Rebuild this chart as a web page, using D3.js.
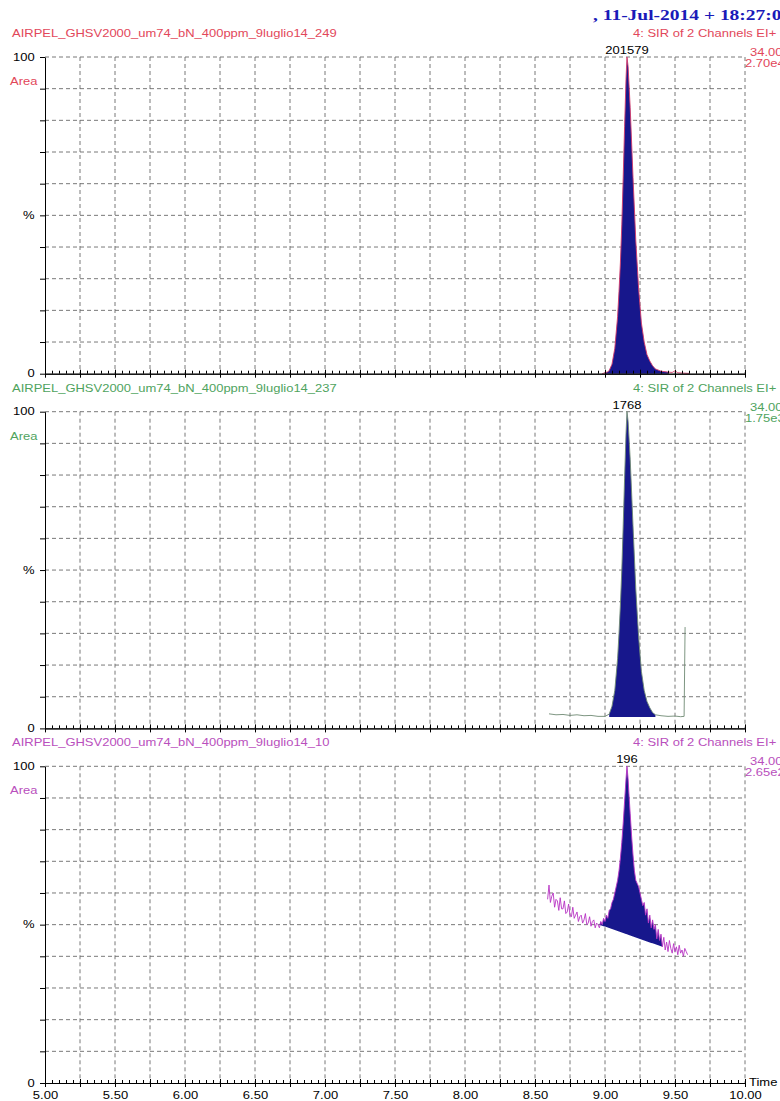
<!DOCTYPE html>
<html>
<head>
<meta charset="utf-8">
<script src="https://cdn.jsdelivr.net/npm/d3@7"></script>
<style>
    body { margin: 0; background: #fff; }
    svg { display: block; font-family: "Liberation Sans", Arial, sans-serif; }
</style>
</head>
<body>
<svg width="780" height="1101"></svg>
<script>
const svg_ = d3.select('svg');

// ---- data ----

const X_DOMAIN = [5, 10];
const X_LABEL_TICKS = [5.0, 5.5, 6.0, 6.5, 7.0, 7.5, 8.0, 8.5, 9.0, 9.5, 10.0];

const runNames = [
    "AIRPEL_GHSV2000_um74_bN_400ppm_9luglio14_249",
    "AIRPEL_GHSV2000_um74_bN_400ppm_9luglio14_237",
    "AIRPEL_GHSV2000_um74_bN_400ppm_9luglio14_10"
];
const runColors = ["#e2475a", "#4fa35e", "#b94fbd"];
const traceColors = ["#d23a6a", "#6f8a74", "#b833c4"];
const channelText = "4: SIR of 2 Channels EI+";
const channelMass = ["34.00", "34.00", "34.00"];
const channelMax = ["2.70e4", "1.75e3", "2.65e2"];
const peakTime = [9.157, 9.157, 9.157];
const peakArea = ["201579", "1768", "196"];
const dateText = ", 11-Jul-2014 + 18:27:06";

// integration window [start, end] and baseline % at each end
const peakWindow = [[9.00, 9.45], [9.03, 9.36], [8.96, 9.41]];
const peakBase = [[0, 0], [3.6, 3.6], [50, 43]];

const p1Time = [8.98, 9.00, 9.02, 9.03, 9.05, 9.07, 9.09, 9.10, 9.11, 9.12, 9.13, 9.14, 9.15, 9.157,
    9.165, 9.18, 9.20, 9.22, 9.24, 9.26, 9.28, 9.30, 9.32, 9.34, 9.36, 9.40, 9.45, 9.48, 9.50, 9.52, 9.55, 9.60];
const p1Pct = [0, 0.3, 0.6, 1, 3, 8, 18, 26, 35, 47, 62, 78, 93, 100,
    97, 84, 62, 42, 27, 16, 10, 6, 4, 2.5, 1.5, 0.8, 0.5, 0.4, 0.9, 0.3, 0.2, 0.1];

const p2Time = [8.60, 8.65, 8.70, 8.75, 8.80, 8.85, 8.90, 8.95, 9.00, 9.03, 9.05, 9.07, 9.09, 9.10,
    9.11, 9.12, 9.13, 9.14, 9.15, 9.157, 9.165, 9.18, 9.20, 9.22, 9.24, 9.26, 9.28, 9.30, 9.32,
    9.34, 9.36, 9.40, 9.45, 9.50, 9.54, 9.565, 9.572];
const p2Pct = [4.6, 4.3, 4.4, 4.1, 4.3, 4.0, 4.1, 3.8, 3.8, 4.5, 7, 12, 22, 30,
    39, 50, 64, 79, 93, 100, 97, 85, 64, 44, 29, 18, 12, 8.5, 6.5,
    5, 4.3, 4.0, 3.8, 3.9, 3.7, 3.8, 32];

const p3Time = [8.59, 8.60, 8.61, 8.62, 8.63, 8.64, 8.65, 8.66, 8.67, 8.68, 8.69, 8.70, 8.71, 8.72,
    8.73, 8.74, 8.75, 8.76, 8.77, 8.78, 8.79, 8.80, 8.81, 8.82, 8.83, 8.84, 8.85, 8.86, 8.87, 8.88,
    8.89, 8.90, 8.91, 8.92, 8.93, 8.94, 8.95, 8.96, 8.97, 8.98, 8.99, 9.00, 9.01, 9.02, 9.03, 9.04,
    9.05, 9.06, 9.07, 9.08, 9.09, 9.10, 9.11, 9.12, 9.13, 9.14, 9.15, 9.157, 9.165, 9.17, 9.18, 9.19,
    9.20, 9.21, 9.22, 9.23, 9.24, 9.25, 9.26, 9.27, 9.28, 9.29, 9.30, 9.31, 9.32, 9.33, 9.34, 9.35,
    9.36, 9.37, 9.38, 9.39, 9.40, 9.41, 9.42, 9.43, 9.44, 9.45, 9.46, 9.47, 9.48, 9.49, 9.50, 9.51,
    9.52, 9.53, 9.54, 9.55, 9.56, 9.57, 9.58, 9.59];
const p3Pct = [58, 62.5, 57, 59, 60, 55.5, 58, 57.5, 54.5, 58.5, 55, 55, 57.5, 53.5,
    54, 56.5, 53, 52.5, 55.5, 52, 53, 54, 51, 52.5, 53, 50.5, 51.5, 53.5, 50, 50.5,
    52.5, 49.5, 51, 51.5, 49, 50.5, 50, 49, 51, 50, 52, 51, 53, 52, 54.5, 55,
    57, 58, 60, 62, 64, 67, 71, 76, 82, 89, 96, 100, 96, 92, 85, 78,
    72, 67, 64, 63, 62, 60, 58, 56, 57, 53, 55, 50.5, 53, 49, 51.5, 48.5,
    50, 45.5, 48.5, 45, 47, 43, 46, 42, 44.5, 41.5, 45, 42.5, 41, 44, 41.5, 43,
    40.5, 43.5, 41, 42, 40, 42.5, 41.5, 40.5];

const traces = [
    { time: p1Time, pct: p1Pct },
    { time: p2Time, pct: p2Pct },
    { time: p3Time, pct: p3Pct }
];

// ---- layout ----

const SX = 1.3;          // the scan is stretched sideways, so is the text
const LEFT = 45;
const RIGHT = 745;
const PANEL_H = 316.7;
const PANEL_TOPS = [57, 411.7, 766.3];
const FILL = "#17178c";

const x = d3.scaleLinear().domain(X_DOMAIN).range([LEFT, RIGHT]);
const y = d3.scaleLinear().domain([0, 100]).range([PANEL_H, 0]);

function label(g, px, py, str, color, anchor, size) {
    return g.append("text")
        .attr("transform", `translate(${px},${py}) scale(${SX},1)`)
        .attr("text-anchor", anchor || "start")
        .attr("fill", color || "#000")
        .style("font-size", (size || 10) + "px")
        .text(str);
}

// date stamp
svg_.append("text")
    .attr("transform", `translate(593,20) scale(${SX},1)`)
    .attr("fill", "#1a1ab8")
    .style("font-family", "'Liberation Serif', 'Times New Roman', serif")
    .style("font-weight", "bold")
    .style("font-size", "15px")
    .text(dateText);

PANEL_TOPS.forEach((top, i) => {

    const g = svg_.append("g").attr("transform", `translate(0,${top})`);
    const col = runColors[i];

    // headers
    label(g, 12, -20, runNames[i], col);
    label(g, 633, -20, channelText, col);
    label(g, 750, -1, channelMass[i], col);
    label(g, 745, 10, channelMax[i], col);
    label(g, 10, 28, "Area", col);

    // grid
    g.append("g")
        .selectAll("line")
        .data(d3.range(10, 101, 10))
        .join("line")
        .attr("x1", LEFT).attr("x2", RIGHT)
        .attr("y1", d => y(d)).attr("y2", d => y(d))
        .attr("stroke", "#6a6a6a")
        .attr("stroke-width", 0.9)
        .attr("stroke-dasharray", "4,3");

    g.append("g")
        .selectAll("line")
        .data(d3.range(1, 21).map(k => 5 + k * 0.25))
        .join("line")
        .attr("x1", d => x(d)).attr("x2", d => x(d))
        .attr("y1", 0).attr("y2", PANEL_H)
        .attr("stroke", "#6a6a6a")
        .attr("stroke-width", 0.9)
        .attr("stroke-dasharray", "4,3");

    // peak fill between trace and integration baseline
    const tr = traces[i];
    const pts = tr.time.map((t, k) => ({ t: t, v: tr.pct[k] }));
    const [w0, w1] = peakWindow[i];
    const [b0, b1] = peakBase[i];
    const base = t => b0 + (b1 - b0) * (t - w0) / (w1 - w0);
    const inWin = pts.filter(d => d.t >= w0 && d.t <= w1);

    g.append("path")
        .datum(inWin)
        .attr("fill", FILL)
        .attr("d", d3.area()
            .x(d => x(d.t))
            .y0(d => y(base(d.t)))
            .y1(d => y(Math.max(d.v, base(d.t)))));

    g.append("path")
        .datum(pts)
        .attr("fill", "none")
        .attr("stroke", traceColors[i])
        .attr("stroke-width", 0.9)
        .attr("d", d3.line().x(d => x(d.t)).y(d => y(d.v)));

    // axes
    const yAx = g.append("g")
        .attr("transform", `translate(${LEFT},0)`)
        .call(d3.axisLeft(y)
            .tickValues(d3.range(0, 101, 10))
            .tickSize(5)
            .tickSizeOuter(0)
            .tickFormat(d => d === 100 ? "100" : d === 50 ? "%" : d === 0 ? "0" : ""));
    yAx.selectAll("text")
        .attr("transform", `scale(${SX},1)`)
        .attr("fill", "#000")
        .style("font-size", "10px")
        .style("font-family", "'Liberation Sans', Arial, sans-serif");
    yAx.selectAll("path, line").attr("stroke", "#000");

    const minor = g.append("g")
        .attr("transform", `translate(0,${PANEL_H})`)
        .call(d3.axisBottom(x)
            .tickValues(d3.range(0, 101).map(k => 5 + k * 0.05))
            .tickSize(-3)
            .tickSizeOuter(0)
            .tickFormat(""));
    minor.selectAll("path, line").attr("stroke", "#000");

    const major = g.append("g")
        .attr("transform", `translate(0,${PANEL_H})`)
        .call(d3.axisBottom(x)
            .tickValues(d3.range(0, 21).map(k => 5 + k * 0.25))
            .tickSize(4)
            .tickSizeOuter(0)
            .tickFormat(""));
    major.selectAll("path, line").attr("stroke", "#000");
    major.selectAll("line").attr("y1", -4);

    // peak area label
    label(g, x(peakTime[i]), -3, peakArea[i], "#000", "middle");

    if (i === 2) {
        const xl = g.append("g")
            .attr("transform", `translate(0,${PANEL_H})`)
            .call(d3.axisBottom(x)
                .tickValues(X_LABEL_TICKS)
                .tickSize(0)
                .tickFormat(d3.format(".2f")));
        xl.select(".domain").remove();
        xl.selectAll("text")
            .attr("y", 16)
            .attr("dy", 0)
            .attr("transform", `scale(${SX},1)`)
            .attr("fill", "#000")
            .style("font-size", "10px")
            .style("font-family", "'Liberation Sans', Arial, sans-serif");
        label(g, RIGHT + 4, PANEL_H + 3, "Time", "#000");
    }
});
</script>
</body>
</html>
